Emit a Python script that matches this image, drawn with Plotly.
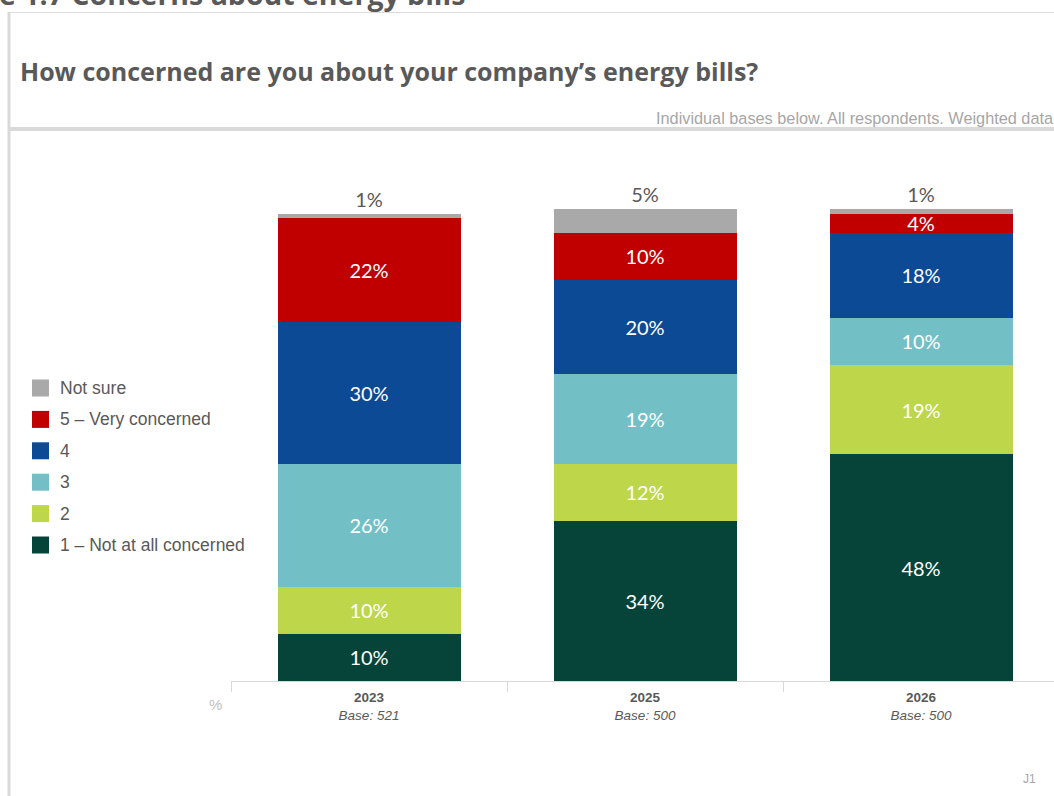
import plotly.graph_objects as go

# Survey waves and base sizes
years = ["2023", "2025", "2026"]
bases = [521, 500, 500]

# Response shares (%) per wave, from the bottom of each stack upwards
series_names = ["1 – Not at all concerned", "2", "3", "4", "5 – Very concerned", "Not sure"]
not_at_all = [10, 34, 48]
level_2 = [10, 12, 19]
level_3 = [26, 19, 10]
level_4 = [30, 20, 18]
very_concerned = [22, 10, 4]
not_sure = [1, 5, 1]

series_values = [not_at_all, level_2, level_3, level_4, very_concerned, not_sure]
series_colors = ["#06443a", "#bdd64a", "#72c0c6", "#0c4a96", "#c00000", "#a9a9a9"]

W, H = 1054, 796
L, R, T, B = 231, 0, 160, 115
PX_PER_PCT = 4.72
plot_w = W - L - R
plot_h = H - T - B
cat_w = 276.0


def px_x(px):
    return (px - L) / plot_w


def px_y(py):
    return (H - B - py) / plot_h


x_pos = [0, 1, 2]
tick_text = [f"<b>{y}</b><br><i>Base: {b}</i>" for y, b in zip(years, bases)]

fig = go.Figure()
for name, vals, col in zip(series_names, series_values, series_colors):
    top = name == "Not sure"
    fig.add_trace(go.Bar(
        x=x_pos, y=vals, name=name,
        marker=dict(color=col, line=dict(width=0)),
        width=183 / cat_w,
        text=[f"{v}%" for v in vals],
        textposition="outside" if top else "inside",
        insidetextanchor="middle",
        textangle=0,
        textfont=dict(family="Lato, Open Sans, sans-serif", size=20,
                      color="#595959" if top else "white"),
        cliponaxis=False,
        showlegend=False,
        hoverinfo="skip",
    ))

shapes = []
annotations = []

# Legend: colour squares and labels, top entry first
legend_top = 388
legend_step = 31.4
for i, (name, col) in enumerate(zip(reversed(series_names), reversed(series_colors))):
    cy = legend_top + i * legend_step
    shapes.append(dict(type="rect", xref="paper", yref="paper",
                       x0=px_x(32), x1=px_x(49), y0=px_y(cy - 8.5), y1=px_y(cy + 8.5),
                       fillcolor=col, line=dict(width=0)))
    annotations.append(dict(xref="paper", yref="paper", x=px_x(58), y=px_y(cy),
                            xanchor="left", yanchor="middle", showarrow=False,
                            text=name,
                            font=dict(family="Liberation Sans, Arial, sans-serif",
                                      size=17.5, color="#595959")))

# Card frame and header divider
shapes += [
    dict(type="line", xref="paper", yref="paper", x0=px_x(9), x1=px_x(9),
         y0=px_y(12), y1=px_y(H + 5), line=dict(color="#d9d9d9", width=3)),
    dict(type="line", xref="paper", yref="paper", x0=px_x(9), x1=px_x(W + 5),
         y0=px_y(12.5), y1=px_y(12.5), line=dict(color="#dcdcdc", width=1)),
    dict(type="line", xref="paper", yref="paper", x0=px_x(9), x1=px_x(W + 5),
         y0=px_y(129), y1=px_y(129), line=dict(color="#d9d9d9", width=4)),
]

annotations += [
    dict(xref="paper", yref="paper", x=px_x(-3), y=px_y(15), xanchor="left",
         yanchor="bottom", showarrow=False,
         text="<b>e 1.7 Concerns about energy bills</b>",
         font=dict(family="Open Sans, sans-serif", size=28.5, color="#595959")),
    dict(xref="paper", yref="paper", x=px_x(18), y=px_y(71), xanchor="left",
         yanchor="middle", showarrow=False,
         text="<b>How concerned are you about your company’s energy bills?</b>",
         font=dict(family="Open Sans, sans-serif", size=25, color="#595959")),
    dict(xref="paper", yref="paper", x=px_x(1056), y=px_y(118), xanchor="right",
         yanchor="middle", showarrow=False,
         text="Individual bases below. All respondents. Weighted data",
         font=dict(family="Liberation Sans, Arial, sans-serif", size=16.3, color="#a6a6a6")),
    dict(xref="paper", yref="paper", x=px_x(215), y=px_y(704), xanchor="center",
         yanchor="middle", showarrow=False, text="%",
         font=dict(family="Liberation Sans, Arial, sans-serif",
                   size=15, color="#bfbfbf")),
    dict(xref="paper", yref="paper", x=px_x(1029), y=px_y(779), xanchor="center",
         yanchor="middle", showarrow=False, text="J1",
         font=dict(family="Liberation Sans, Arial, sans-serif",
                   size=12, color="#a6a6a6")),
]

fig.update_layout(
    width=W, height=H,
    margin=dict(l=L, r=R, t=T, b=B, pad=0),
    paper_bgcolor="white", plot_bgcolor="white",
    barmode="stack",
    showlegend=False,
    uniformtext=dict(mode="show", minsize=20),
    shapes=shapes,
    annotations=annotations,
    xaxis=dict(
        range=[-0.5, -0.5 + plot_w / cat_w],
        tickmode="array", tickvals=x_pos, ticktext=tick_text,
        ticks="outside", ticklen=4, tickcolor="rgba(0,0,0,0)",
        tickfont=dict(family="Liberation Sans, Arial, sans-serif",
                      size=13.5, color="#595959"),
        showline=True, linecolor="#d9d9d9", linewidth=1,
        showgrid=False, zeroline=False,
        minor=dict(tickmode="linear", tick0=-0.5, dtick=1, ticks="outside",
                   ticklen=10, tickcolor="#d9d9d9", tickwidth=1, showgrid=False),
        fixedrange=True,
    ),
    yaxis=dict(range=[0, plot_h / PX_PER_PCT], visible=False, fixedrange=True),
)

fig.write_html("out.html")
